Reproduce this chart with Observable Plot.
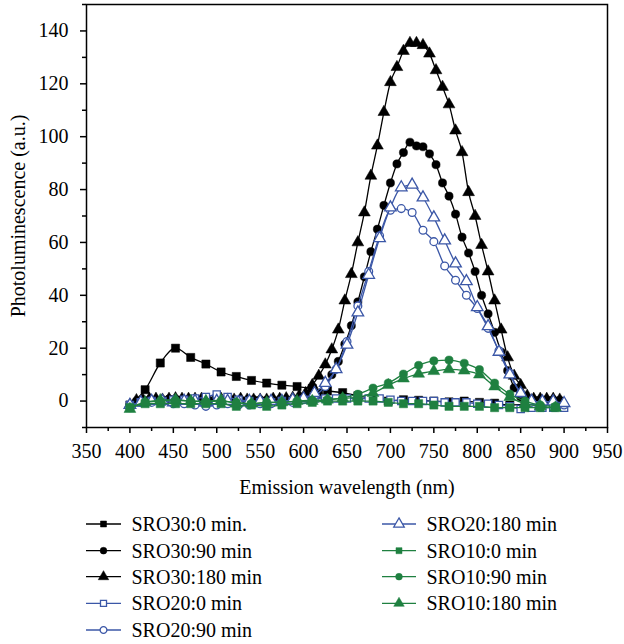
<!DOCTYPE html>
<html><head><meta charset="utf-8">
<script src="https://cdn.jsdelivr.net/npm/d3@7"></script>
<script src="https://cdn.jsdelivr.net/npm/@observablehq/plot@0.6"></script>
<style>
body{margin:0;background:#fff}
#chart svg{display:block}
#chart text{font-family:"Liberation Serif","DejaVu Serif","Noto Serif","Nimbus Roman","Nimbus Roman No9 L","FreeSerif","Times New Roman",Times,Georgia,serif !important}
</style>
</head><body><div id="chart"></div>
<script>
// wavelength grids (nm) of the three sampling sets
const gridA = [400,417.5,435,452.5,470,487.5,505,522.5,540,557.5,575,592.5,610,627.5,645,662.5,680,697.5,715,732.5,750,767.5,785,802.5,820,837.5,855,872.5,890];
const gridB = [400,412.5,425,437.5,450,462.5,475,487.5,500,512.5,
               525,537.5,550,562.5,575,587.5,600,612.5,625,637.5,
               650,662.5,675,687.5,700,712.5,725,737.5,750,762.5,
               775,787.5,800,812.5,825,837.5,850,862.5,875,887.5,900];
const gridC = [400,407.5,415,422.5,430,437.5,445,452.5,460,467.5,
               475,482.5,490,497.5,505,512.5,520,527.5,535,542.5,
               550,557.5,565,572.5,580,587.5,595,602.5,610,617.5,
               625,632.5,640,647.5,655,662.5,670,677.5,685,692.5,
               700,707.5,715,722.5,730,737.5,745,752.5,760,767.5,
               775,782.5,790,797.5,805,812.5,820,827.5,835,842.5,
               850,857.5,865,872.5,880,887.5,895];

const sro30_0 = [-1.5,4.3,14.4,20,16.5,14,11,9.3,7.8,6.8,6,5.5,4.8,3.8,3.2,2,1,0,0.5,0.3,0,-0.3,0,-0.5,-0.8,-1.5,-1.2,-1,-1.5];
const sro30_90 = [-1.5,0,0.3,0.5,0.5,0.5,0.8,0.8,0.5,0.5,
                  0.8,0.5,0.5,0.3,0.3,0.5,0.5,0.3,0.3,0.5,
                  0.5,0.3,0.3,0.5,0.5,0.5,0.8,1,1.5,2.8,
                  5.5,10,15,21.5,28.5,37.5,47,56.5,65,74,
                  82.5,89.7,94,97.9,96.5,96.2,93.5,89.4,82.5,77.5,
                  70.7,62,56,49,40,33,26,18.5,11.5,5,
                  1.5,0.5,0.5,0.5,0.5,0.5,0.3];
const sro30_180 = [-1.5,0.3,0.5,0.8,0.8,0.5,0.8,1,0.8,0.8,
                   0.8,0.8,0.5,0.8,0.8,0.5,0.5,0.8,0.5,0.5,
                   0.5,0.5,0.8,0.8,1,1.2,2,3,6,9.5,
                   13.8,19.5,27,38,48,60,71.3,85.2,96.6,109.3,
                   120.6,126.3,132.4,135.4,135.4,134.6,131.4,125.1,118.8,112.2,
                   102.3,94.1,79,70,59,49,38,27,16.5,9.5,
                   6,2,0.8,0.8,0.8,0.8,0.5];
const sro20_0 = [-1.5,-0.5,0,0,0.5,0.5,1,1.5,2.5,1.5,
                 0.5,0,-0.5,-0.5,0,0,0.5,1,1,1,
                 1,1,1,1,0.5,0,0,0,0,-0.5,
                 -0.5,-0.5,-1,-1,-1.5,-2,-3,-2.5,-2.5,-2.5,
                 -2.5];
const sro20_90 = [-2,-0.5,-0.5,-0.5,-1,-1,-1.5,-2,-1.5,-1,
                  -1.5,-1.5,-1,-1,-0.5,-0.5,0.5,2,5.5,12,
                  22.5,36,49,62.5,72.2,72.8,71.3,64.6,60.3,51.1,
                  45.7,40,35,27.5,19,10.5,3,-0.5,-1,-1.5,
                  -1.5];
const sro20_180 = [-1.5,-0.5,0,0,-0.5,0,0,-0.5,0,0,
                   -0.5,0,0,0,0,0.5,1,3,6.8,12,
                   21.3,33.5,47.7,61.6,73.2,80.8,81.8,77,69.4,60.7,
                   52,45.3,35.5,28.3,18.6,10,3,0,-0.2,-0.2,
                   -0.8];
const sro10_0 = [-2.5,-1,-1,-1,-1,-1,-1,-2,-1.5,-2,-1.5,-1,-0.5,0,0,0,0,-0.5,-1,-1,-1.5,-2,-2,-2,-2.5,-2.5,-2.5,-2.5,-2.5];
const sro10_90 = [-2.5,-0.5,0,0.3,0,-0.3,0,-0.5,-1,-0.5,-0.5,0,0.3,0.5,1.2,2.6,4.9,6.8,10.2,13.5,15.2,15.5,14.3,11.9,6.8,2.6,0,-1.5,-2];
const sro10_180 = [-3,-0.5,0.3,0.5,0,0,0.3,-1,-1,-0.5,-0.5,0,0,0.5,1,1.5,3,6,8.5,10.3,11.3,12,11.5,10,5.5,1.5,-1,-2,-2.5];

const seriesNames = ["SRO30:0 min.","SRO30:90 min","SRO30:180 min","SRO20:0 min","SRO20:90 min","SRO20:180 min","SRO10:0 min","SRO10:90 min","SRO10:180 min"];
const xTicks = [350,400,450,500,550,600,650,700,750,800,850,900,950];
const xMinor = [375,425,475,525,575,625,675,725,775,825,875,925];
const yTicks = [0,20,40,60,80,100,120,140];
const yMinor = [-10,10,30,50,70,90,110,130,150];

const BLACK = "#000000", BLUE = "#3b57a7", GREEN = "#1f8040";
const styles = [
  {xs: gridA, ys: sro30_0,   sym: "square",   color: BLACK, hollow: false, r: 4.6},
  {xs: gridC, ys: sro30_90,  sym: "circle",   color: BLACK, hollow: false, r: 4.1},
  {xs: gridC, ys: sro30_180, sym: "triangle", color: BLACK, hollow: false, r: 4.4},
  {xs: gridB, ys: sro20_0,   sym: "square",   color: BLUE,  hollow: true,  r: 4.1},
  {xs: gridB, ys: sro20_90,  sym: "circle",   color: BLUE,  hollow: true,  r: 3.9},
  {xs: gridB, ys: sro20_180, sym: "triangle", color: BLUE,  hollow: true,  r: 4.3},
  {xs: gridA, ys: sro10_0,   sym: "square",   color: GREEN, hollow: false, r: 4.6},
  {xs: gridA, ys: sro10_90,  sym: "circle",   color: GREEN, hollow: false, r: 4.1},
  {xs: gridA, ys: sro10_180, sym: "triangle", color: GREEN, hollow: false, r: 4.4}
];

const seriesMarks = [];
styles.forEach((s, i) => {
  const data = s.xs.map((x, j) => ({x, y: s.ys[j], name: seriesNames[i]}));
  seriesMarks.push(Plot.line(data, {x: "x", y: "y", stroke: s.color, strokeWidth: 1.3, curve: "monotone-x"}));
  seriesMarks.push(Plot.dot(data, {x: "x", y: "y", symbol: s.sym, r: s.r,
    fill: s.hollow ? "white" : s.color, stroke: s.color, strokeWidth: s.hollow ? 1.3 : 0.5}));
});

const FONT = "'Liberation Serif', 'DejaVu Serif', serif";
const chart = Plot.plot({
  width: 624, height: 505,
  marginTop: 4, marginLeft: 86, marginRight: 17, marginBottom: 78,
  style: {fontFamily: FONT, fontSize: "20px", color: "black", background: "white", overflow: "visible"},
  x: {domain: [350, 950]},
  y: {domain: [-10, 150]},
  marks: [
    Plot.axisX({ticks: xTicks, tickSize: 6, tickPadding: 10, fontSize: 20, strokeWidth: 1.5,
      label: "Emission wavelength (nm)", labelAnchor: "center", labelArrow: "none", labelOffset: 66}),
    Plot.axisX({ticks: xMinor, tickSize: 4, text: null, label: null, strokeWidth: 1.5}),
    Plot.axisY({ticks: yTicks, tickSize: 6, tickPadding: 12, fontSize: 20, strokeWidth: 1.5,
      label: "Photoluminescence (a.u.)", labelAnchor: "center", labelArrow: "none", labelOffset: 76}),
    Plot.axisY({ticks: yMinor, tickSize: 4, text: null, label: null, strokeWidth: 1.5}),
    ...seriesMarks,
    Plot.frame({stroke: "black", strokeWidth: 1.5})
  ]
});
document.getElementById("chart").appendChild(chart);

// legend below the plot
const legend = d3.create("svg").attr("width", 624).attr("height", 139)
  .style("display", "block").style("font-family", FONT).style("font-size", "20px");
const rowY = [19, 45.7, 71.7, 98.3, 125];
styles.forEach((s, i) => {
  const col = i < 5 ? 0 : 1;
  const row = i < 5 ? i : i - 5;
  const x0 = col === 0 ? 86 : 382, x1 = col === 0 ? 121 : 416, tx = col === 0 ? 131.5 : 426.5;
  const cy = rowY[row];
  const g = legend.append("g");
  g.append("line").attr("x1", x0).attr("x2", x1).attr("y1", cy).attr("y2", cy)
    .attr("stroke", s.color).attr("stroke-width", 1.3);
  const type = s.sym === "square" ? d3.symbolSquare : s.sym === "circle" ? d3.symbolCircle : d3.symbolTriangle;
  const rr = s.sym === "triangle" ? 3.9 : 3.4;
  g.append("path").attr("d", d3.symbol(type, Math.PI * rr * rr)())
    .attr("transform", `translate(${(x0 + x1) / 2},${cy})`)
    .attr("fill", s.hollow ? "white" : s.color).attr("stroke", s.color).attr("stroke-width", s.hollow ? 1.3 : 0.5);
  g.append("text").attr("x", tx).attr("y", cy + 7).attr("fill", "black").text(seriesNames[i]);
});
document.getElementById("chart").appendChild(legend.node());
</script>
</body></html>
